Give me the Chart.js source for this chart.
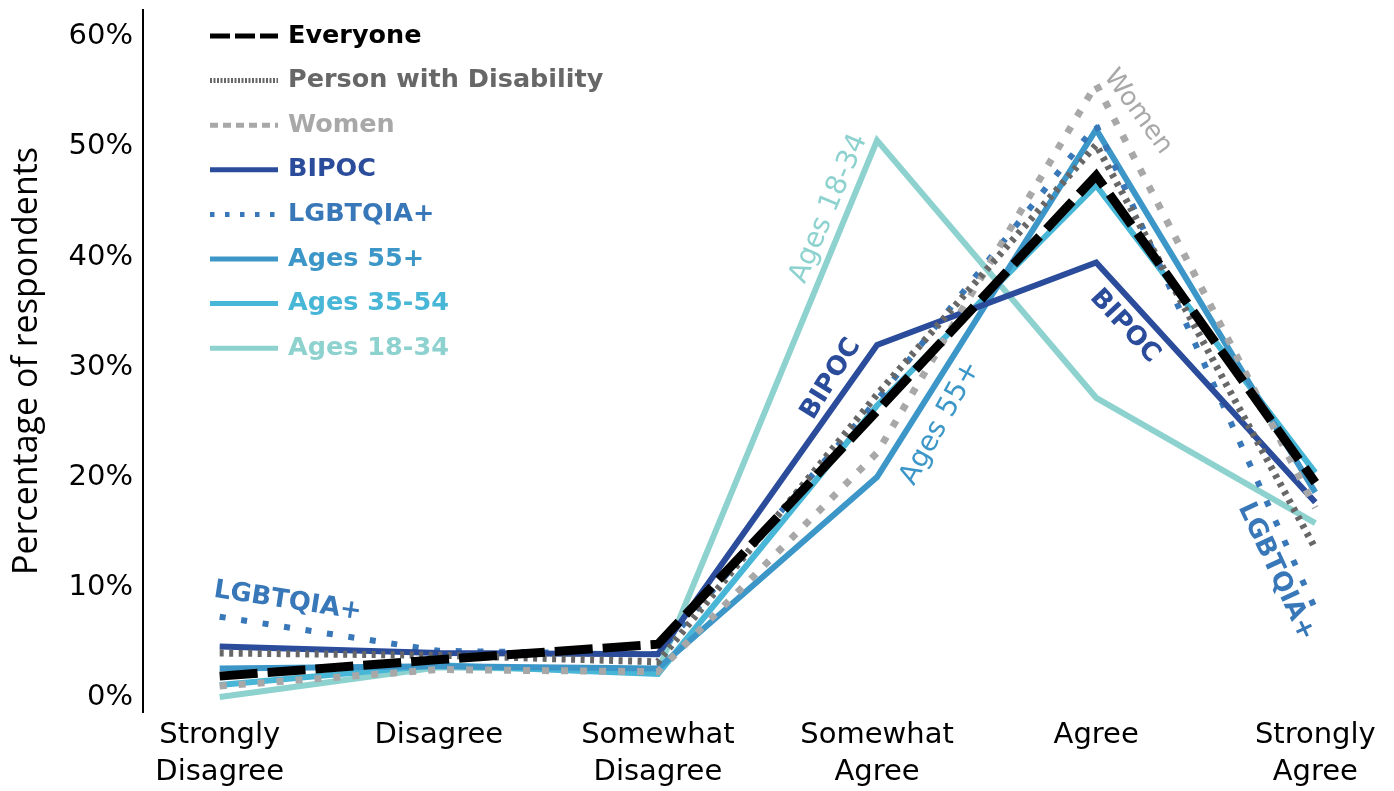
<!DOCTYPE html>
<html>
<head>
<meta charset="utf-8">
<script src="https://cdn.jsdelivr.net/npm/chart.js@4.4.1/dist/chart.umd.min.js"></script>
<style>
  html, body { margin: 0; padding: 0; background: #ffffff; }
  #wrap { width: 1394px; height: 791px; }
</style>
</head>
<body>
<div id="wrap"><canvas id="chart" width="1394" height="791"></canvas></div>
<script>
// Response scale (x axis)
const categories = ['Strongly Disagree', 'Disagree', 'Somewhat Disagree', 'Somewhat Agree', 'Agree', 'Strongly Agree'];
const categoryLines = [['Strongly', 'Disagree'], ['Disagree'], ['Somewhat', 'Disagree'], ['Somewhat', 'Agree'], ['Agree'], ['Strongly', 'Agree']];

// Percentage ticks on the y axis
const yTicks = [0, 10, 20, 30, 40, 50, 60];

// Share of respondents (%) per response, by group
const everyone   = [1.9, 3.4, 4.8, 26.0, 47.4, 19.5];
const disability = [4.0, 3.8, 3.2, 27.5, 50.2, 13.5];
const women      = [1.0, 2.5, 2.3, 22.2, 55.7, 17.2];
const bipoc      = [4.6, 4.0, 3.9, 32.0, 39.5, 17.7];
const lgbtqia    = [7.3, 4.2, 3.9, 27.0, 52.0, 8.0];
const ages55     = [2.6, 2.8, 2.6, 20.0, 51.6, 18.6];
const ages35     = [1.1, 2.9, 2.1, 26.5, 46.5, 20.4];
const ages18     = [0.0, 2.7, 2.4, 50.6, 27.2, 15.8];

const toPoints = arr => arr.map((v, i) => ({ x: i, y: v }));

const datasets = [
  { label: 'Everyone', data: toPoints(everyone), borderColor: '#000000', borderWidth: 9, borderDash: [38, 10], legendDash: [20, 5], legendWidth: 5 },
  { label: 'Person with Disability', data: toPoints(disability), borderColor: '#676767', borderWidth: 7, borderDash: [4, 5.5], legendDash: [2, 1.5], legendWidth: 5 },
  { label: 'Women', data: toPoints(women), borderColor: '#a8a8a8', borderWidth: 7, borderDash: [7, 12], legendDash: [8, 5], legendWidth: 5 },
  { label: 'BIPOC', data: toPoints(bipoc), borderColor: '#2a4c9b', borderWidth: 6, borderDash: [], legendDash: [], legendWidth: 5 },
  { label: 'LGBTQIA+', data: toPoints(lgbtqia), borderColor: '#3877b8', borderWidth: 6, borderDash: [6, 15.7], legendDash: [4.5, 10.5], legendWidth: 5 },
  { label: 'Ages 55+', data: toPoints(ages55), borderColor: '#3c97c8', borderWidth: 6, borderDash: [], legendDash: [], legendWidth: 5 },
  { label: 'Ages 35-54', data: toPoints(ages35), borderColor: '#48b6d6', borderWidth: 6, borderDash: [], legendDash: [], legendWidth: 5 },
  { label: 'Ages 18-34', data: toPoints(ages18), borderColor: '#8dd2cf', borderWidth: 6, borderDash: [], legendDash: [], legendWidth: 5 }
];

// Labels written along the lines, anchored in data space
const lineLabels = [
  { ds: 4, text: 'LGBTQIA+',   x: 0.31, y: 8.7,  angle: 8.7, weight: 'bold',   size: 26 },
  { ds: 7, text: 'Ages 18-34', x: 2.78, y: 44.4, angle: -67, weight: 'normal', size: 28 },
  { ds: 3, text: 'BIPOC',      x: 2.79, y: 28.9, angle: -58, weight: 'bold',   size: 26 },
  { ds: 5, text: 'Ages 55+',   x: 3.29, y: 24.9, angle: -61, weight: 'normal', size: 28 },
  { ds: 2, text: 'Women',      x: 4.19, y: 53.2, angle: 54,  weight: 'normal', size: 26 },
  { ds: 3, text: 'BIPOC',      x: 4.13, y: 33.7, angle: 47,  weight: 'bold',   size: 26 },
  { ds: 4, text: 'LGBTQIA+',   x: 4.82, y: 11.4, angle: 65,  weight: 'bold',   size: 26 }
];

const annotate = {
  id: 'annotate',
  afterDatasetsDraw(chart) {
    const { ctx, chartArea, scales } = chart;
    const dsets = chart.data.datasets;

    // line labels
    lineLabels.forEach(l => {
      const px = scales.x.getPixelForValue(l.x);
      const py = scales.y.getPixelForValue(l.y);
      ctx.save();
      ctx.translate(px, py);
      ctx.rotate(l.angle * Math.PI / 180);
      ctx.font = l.weight + ' ' + l.size + 'px "DejaVu Sans"';
      ctx.fillStyle = dsets[l.ds].borderColor;
      ctx.textAlign = 'center';
      ctx.textBaseline = 'middle';
      ctx.fillText(l.text, 0, 0);
      ctx.restore();
    });

    // key in the upper left
    const x0 = chartArea.left + 67;
    const sampleW = 68;
    const y0 = chartArea.top + 26;
    const step = 44.6;
    dsets.forEach((d, i) => {
      const y = y0 + i * step;
      ctx.save();
      ctx.beginPath();
      ctx.setLineDash(d.legendDash);
      ctx.lineWidth = d.legendWidth;
      ctx.lineCap = 'butt';
      ctx.strokeStyle = d.borderColor;
      ctx.moveTo(x0, y);
      ctx.lineTo(x0 + sampleW, y);
      ctx.stroke();
      ctx.setLineDash([]);
      ctx.font = 'bold 25.5px "DejaVu Sans"';
      ctx.fillStyle = d.borderColor;
      ctx.textAlign = 'left';
      ctx.textBaseline = 'middle';
      ctx.fillText(d.label, x0 + sampleW + 10, y);
      ctx.restore();
    });
  }
};

new Chart(document.getElementById('chart'), {
  type: 'line',
  data: { datasets },
  plugins: [annotate],
  options: {
    responsive: false,
    devicePixelRatio: 1,
    animation: false,
    layout: { padding: { top: 10, right: 2, left: 0, bottom: 0 } },
    elements: {
      point: { radius: 0, hoverRadius: 0 },
      line: { tension: 0, fill: false, borderCapStyle: 'butt', borderJoinStyle: 'miter' }
    },
    datasets: { line: { clip: false } },
    plugins: { legend: { display: false }, tooltip: { enabled: false } },
    scales: {
      x: {
        type: 'linear',
        min: -0.35,
        max: 5.35,
        afterBuildTicks: s => { s.ticks = categories.map((_, i) => ({ value: i })); },
        afterFit: s => { s.height = 79; s.paddingLeft = 0; s.paddingRight = 0; },
        grid: { display: false, drawTicks: false },
        border: { display: false },
        ticks: {
          autoSkip: false,
          maxRotation: 0,
          minRotation: 0,
          padding: 5,
          color: '#000000',
          font: { family: 'DejaVu Sans', size: 29, lineHeight: 1.276 },
          callback: v => categoryLines[v]
        }
      },
      y: {
        min: -1.36,
        max: 62.45,
        afterBuildTicks: s => { s.ticks = yTicks.map(v => ({ value: v })); },
        afterFit: s => { s.width = 143; s.paddingTop = 0; s.paddingBottom = 0; },
        grid: { display: false, drawTicks: false },
        border: { display: true, color: '#000000', width: 2 },
        ticks: {
          padding: 10,
          color: '#000000',
          font: { family: 'DejaVu Sans', size: 29, lineHeight: 0.6 },
          callback: v => v + '%'
        },
        title: {
          display: true,
          text: 'Percentage of respondents',
          color: '#000000',
          font: { family: 'Open Sans', size: 34 },
          padding: { top: 7, bottom: 0 }
        }
      }
    }
  }
});
</script>
</body>
</html>
